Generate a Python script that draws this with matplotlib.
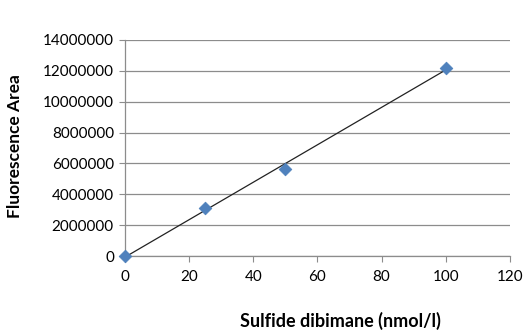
import numpy as np
import matplotlib
matplotlib.use("Agg")
import matplotlib.pyplot as plt
from matplotlib.ticker import MultipleLocator, FuncFormatter

# Data
concentration = [0, 25, 50, 100]                      # nmol/l
fluorescence = [0, 3100000, 5650000, 12200000]        # area

X_LABEL = "Sulfide dibimane (nmol/l)"
Y_LABEL = "Fluorescence Area"

plt.rcParams["font.family"] = ["Lato", "DejaVu Sans"]

fig = plt.figure(figsize=(5.23, 3.36), dpi=100)
ax = fig.add_axes([0.239, 0.238, 0.736, 0.643])

# linear trend line over the data range
slope, intercept = np.polyfit(concentration, fluorescence, 1)
xs = np.array([min(concentration), max(concentration)])
ax.plot(xs, slope * xs + intercept, color="#222222", linewidth=0.9, zorder=3)

ax.scatter(concentration, fluorescence, marker="D", s=42, color="#4F81BD",
           edgecolors="#4A7EBB", linewidths=0.5, zorder=4, clip_on=False)

ax.set_xlim(0, 120)
ax.set_ylim(0, 14000000)
ax.xaxis.set_major_locator(MultipleLocator(20))
ax.yaxis.set_major_locator(MultipleLocator(2000000))
ax.yaxis.set_major_formatter(FuncFormatter(lambda v, p: f"{int(v)}"))

ax.grid(axis="y", color="#8C8C8C", linewidth=0.9)
ax.set_axisbelow(True)
for side in ["top", "right"]:
    ax.spines[side].set_visible(False)
for side in ["left", "bottom"]:
    ax.spines[side].set_color("#8C8C8C")
    ax.spines[side].set_linewidth(0.9)

ax.tick_params(axis="both", direction="out", length=4, color="#8C8C8C",
               labelsize=11, labelcolor="#000000")
ax.tick_params(axis="x", pad=6)
ax.tick_params(axis="y", pad=4)

fig.text(0.650, 0.018, X_LABEL, ha="center", va="bottom",
         fontsize=13, fontweight="bold")
fig.text(0.029, 0.565, Y_LABEL, ha="center", va="center", rotation=90,
         fontsize=12.5, fontweight="bold")

fig.savefig("out.png", dpi=100)
